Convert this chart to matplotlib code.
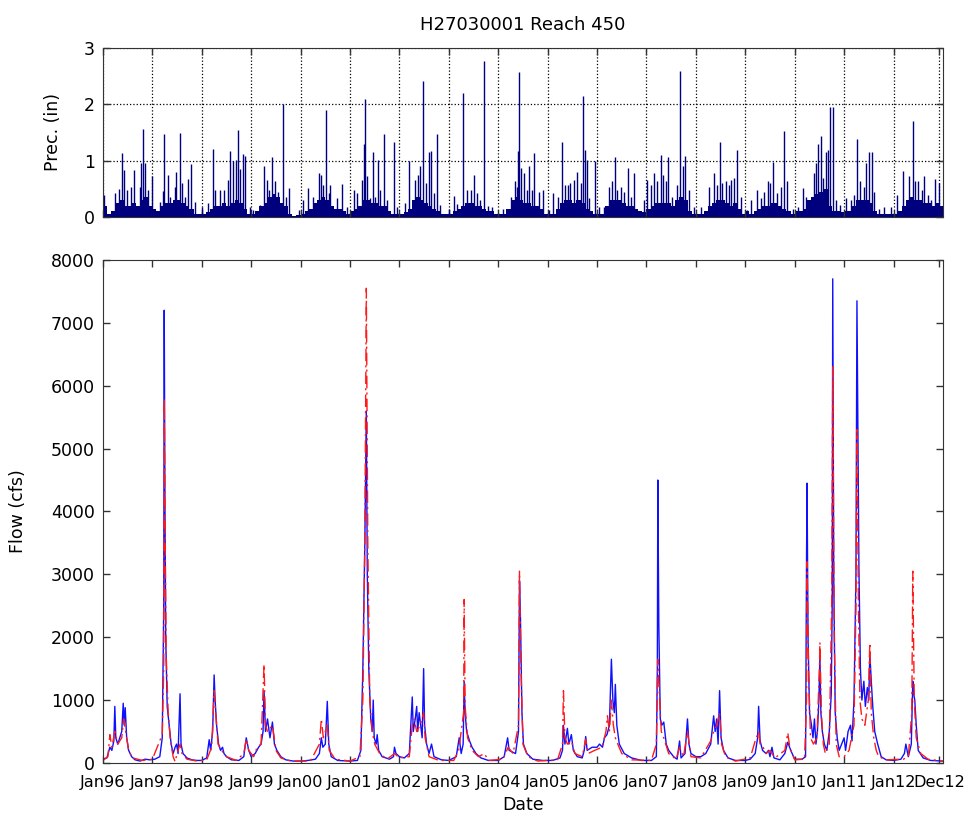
import numpy as np
import matplotlib
matplotlib.use("Agg")
import matplotlib.pyplot as plt

# ---- data (dates as decimal years) ----
tick_pos = [1996, 1997, 1998, 1999, 2000, 2001, 2002, 2003, 2004, 2005,
            2006, 2007, 2008, 2009, 2010, 2011, 2012, 2012.92]
tick_lab = ['Jan96', 'Jan97', 'Jan98', 'Jan99', 'Jan00', 'Jan01', 'Jan02',
            'Jan03', 'Jan04', 'Jan05', 'Jan06', 'Jan07', 'Jan08', 'Jan09',
            'Jan10', 'Jan11', 'Jan12', 'Dec12']

# individual rain days that stand out (year, inches)
rain_day = [1996.02, 1996.24, 1996.33, 1996.39, 1996.43, 1996.48, 1996.57, 1996.63, 1996.74, 1996.78,
            1996.82, 1996.86, 1996.92, 1997.0, 1997.16, 1997.22, 1997.24, 1997.31, 1997.36, 1997.46,
            1997.48, 1997.56, 1997.59, 1997.66, 1997.72, 1997.78, 1997.86, 1998.0, 1998.12, 1998.22,
            1998.27, 1998.36, 1998.45, 1998.53, 1998.57, 1998.63, 1998.70, 1998.74, 1998.78, 1998.84,
            1998.88, 1998.98, 1999.03, 1999.18, 1999.25, 1999.32, 1999.37, 1999.42, 1999.49, 1999.55,
            1999.65, 1999.71, 1999.76, 1999.96, 2000.05, 2000.14, 2000.26, 2000.38, 2000.42, 2000.45,
            2000.52, 2000.57, 2000.60, 2000.73, 2000.84, 2000.94, 2001.09, 2001.15, 2001.24, 2001.28,
            2001.31, 2001.34, 2001.41, 2001.46, 2001.51, 2001.57, 2001.61, 2001.68, 2001.75, 2001.90,
            2001.95, 2002.12, 2002.20, 2002.32, 2002.37, 2002.42, 2002.48, 2002.53, 2002.59, 2002.64,
            2002.69, 2002.76, 2002.83, 2003.0, 2003.10, 2003.17, 2003.29, 2003.37, 2003.44, 2003.51,
            2003.57, 2003.64, 2003.71, 2003.80, 2003.88, 2004.10, 2004.25, 2004.33, 2004.38, 2004.40,
            2004.43, 2004.46, 2004.52, 2004.59, 2004.63, 2004.69, 2004.73, 2004.82, 2004.91, 2005.02,
            2005.11, 2005.20, 2005.29, 2005.36, 2005.41, 2005.46, 2005.53, 2005.60, 2005.67, 2005.72,
            2005.75, 2005.79, 2005.84, 2005.95, 2006.04, 2006.14, 2006.24, 2006.30, 2006.36, 2006.41,
            2006.48, 2006.54, 2006.63, 2006.68, 2006.75, 2006.94, 2007.02, 2007.09, 2007.15, 2007.22,
            2007.29, 2007.34, 2007.39, 2007.44, 2007.52, 2007.61, 2007.67, 2007.73, 2007.79, 2007.86,
            2007.96, 2008.10, 2008.27, 2008.37, 2008.42, 2008.48, 2008.52, 2008.60, 2008.67, 2008.72,
            2008.77, 2008.84, 2008.91, 2009.03, 2009.12, 2009.23, 2009.31, 2009.38, 2009.45, 2009.50,
            2009.57, 2009.65, 2009.72, 2009.79, 2009.85, 2009.96, 2010.06, 2010.16, 2010.23, 2010.33,
            2010.40, 2010.43, 2010.48, 2010.53, 2010.58, 2010.63, 2010.68, 2010.72, 2010.77, 2010.83,
            2010.92, 2011.04, 2011.14, 2011.21, 2011.27, 2011.33, 2011.40, 2011.44, 2011.51, 2011.56,
            2011.61, 2011.71, 2011.81, 2011.95, 2012.08, 2012.20, 2012.32, 2012.39, 2012.43, 2012.50,
            2012.57, 2012.62, 2012.70, 2012.76, 2012.84, 2012.93]
rain_in = [0.39, 0.43, 0.50, 1.13, 0.84, 0.48, 0.54, 0.84, 0.54, 0.96,
           1.57, 0.96, 0.48, 0.72, 0.27, 0.47, 1.48, 0.74, 0.36, 0.54,
           0.80, 1.49, 0.61, 0.36, 0.67, 0.94, 0.27, 0.18, 0.24, 1.20,
           0.48, 0.48, 0.48, 0.66, 1.18, 1.00, 1.02, 1.54, 0.85, 1.12,
           1.08, 0.18, 0.12, 0.21, 0.91, 0.66, 0.48, 1.06, 0.63, 0.45,
           2.01, 0.36, 0.51, 0.12, 0.30, 0.51, 0.36, 0.78, 0.75, 0.57,
           1.90, 0.42, 0.57, 0.33, 0.58, 0.18, 0.48, 0.42, 0.66, 1.30,
           2.10, 0.72, 0.33, 1.15, 0.36, 1.02, 0.48, 1.48, 0.30, 1.33,
           0.18, 0.24, 1.00, 0.66, 0.74, 0.90, 2.42, 0.60, 1.15, 1.17,
           0.42, 1.48, 0.21, 0.15, 0.37, 0.23, 2.20, 0.48, 0.48, 0.74,
           0.43, 0.30, 2.77, 0.20, 0.18, 0.15, 0.36, 0.63, 0.54, 1.18,
           2.58, 0.87, 0.78, 0.48, 0.90, 0.48, 1.13, 0.45, 0.48, 0.12,
           0.42, 0.36, 1.33, 0.57, 0.57, 0.60, 0.66, 0.79, 0.61, 2.15,
           1.19, 1.01, 0.33, 1.00, 0.18, 0.18, 0.54, 0.64, 1.07, 0.48,
           0.54, 0.45, 0.87, 0.36, 0.78, 0.30, 0.66, 0.57, 0.78, 0.63,
           1.10, 0.75, 0.63, 1.07, 0.36, 0.57, 2.60, 0.90, 1.09, 0.48,
           0.18, 0.18, 0.54, 0.78, 0.57, 1.34, 0.60, 0.63, 0.57, 0.66,
           0.70, 1.19, 0.36, 0.12, 0.30, 0.48, 0.33, 0.45, 0.63, 0.60,
           0.97, 0.42, 0.54, 1.52, 0.63, 0.15, 0.18, 0.51, 0.36, 0.25,
           0.78, 0.96, 1.30, 1.44, 0.69, 1.16, 1.19, 1.95, 1.96, 0.30,
           0.21, 0.33, 0.30, 0.39, 1.39, 0.63, 0.54, 0.96, 1.16, 1.16,
           0.45, 0.15, 0.18, 0.18, 0.39, 0.81, 0.72, 1.70, 0.63, 0.63,
           0.48, 0.72, 0.39, 0.30, 0.67, 0.61]

# level of the dense band of small daily totals, month by month (Jan..Dec)
rain_band = {
    1996: [0.20, 0.05, 0.10, 0.25, 0.30, 0.20, 0.20, 0.25, 0.20, 0.30, 0.35, 0.20],
    1997: [0.15, 0.10, 0.20, 0.25, 0.25, 0.30, 0.30, 0.25, 0.20, 0.15, 0.05, 0.05],
    1998: [0.05, 0.08, 0.15, 0.20, 0.20, 0.25, 0.20, 0.25, 0.30, 0.25, 0.15, 0.05],
    1999: [0.05, 0.10, 0.20, 0.25, 0.35, 0.40, 0.35, 0.25, 0.20, 0.05, 0.02, 0.03],
    2000: [0.05, 0.10, 0.15, 0.25, 0.30, 0.35, 0.30, 0.20, 0.15, 0.15, 0.10, 0.05],
    2001: [0.10, 0.15, 0.20, 0.30, 0.30, 0.25, 0.25, 0.20, 0.20, 0.10, 0.05, 0.05],
    2002: [0.05, 0.08, 0.15, 0.30, 0.35, 0.30, 0.25, 0.20, 0.15, 0.10, 0.05, 0.05],
    2003: [0.05, 0.10, 0.15, 0.20, 0.25, 0.25, 0.20, 0.20, 0.15, 0.10, 0.10, 0.05],
    2004: [0.05, 0.05, 0.15, 0.30, 0.35, 0.30, 0.25, 0.25, 0.20, 0.20, 0.15, 0.05],
    2005: [0.05, 0.05, 0.15, 0.25, 0.30, 0.30, 0.25, 0.30, 0.25, 0.15, 0.10, 0.05],
    2006: [0.05, 0.05, 0.20, 0.30, 0.30, 0.30, 0.25, 0.20, 0.20, 0.15, 0.10, 0.08],
    2007: [0.15, 0.20, 0.25, 0.25, 0.25, 0.25, 0.20, 0.30, 0.35, 0.30, 0.10, 0.05],
    2008: [0.05, 0.05, 0.10, 0.20, 0.25, 0.30, 0.30, 0.25, 0.20, 0.25, 0.15, 0.05],
    2009: [0.10, 0.05, 0.10, 0.15, 0.20, 0.20, 0.25, 0.25, 0.20, 0.15, 0.10, 0.05],
    2010: [0.10, 0.10, 0.15, 0.30, 0.35, 0.40, 0.45, 0.50, 0.20, 0.10, 0.10, 0.08],
    2011: [0.10, 0.10, 0.20, 0.30, 0.30, 0.30, 0.25, 0.10, 0.05, 0.05, 0.05, 0.05],
    2012: [0.05, 0.10, 0.20, 0.30, 0.35, 0.30, 0.30, 0.25, 0.25, 0.20, 0.25, 0.20],
}

# observed flow (blue)
obs_t = [1996.00, 1996.08, 1996.14, 1996.18, 1996.22, 1996.24, 1996.26, 1996.30, 1996.34, 1996.38,
         1996.41, 1996.43, 1996.45, 1996.48, 1996.52, 1996.58, 1996.65, 1996.75, 1996.85, 1996.95,
         1997.05, 1997.15, 1997.20, 1997.23, 1997.24, 1997.255, 1997.27, 1997.30, 1997.34, 1997.38,
         1997.42, 1997.46, 1997.49, 1997.52, 1997.56, 1997.58, 1997.62, 1997.70, 1997.80, 1997.90,
         1998.00, 1998.10, 1998.15, 1998.18, 1998.22, 1998.25, 1998.27, 1998.30, 1998.34, 1998.38,
         1998.42, 1998.45, 1998.50, 1998.60, 1998.75, 1998.85, 1998.90, 1998.95, 1999.00, 1999.08,
         1999.15, 1999.20, 1999.24, 1999.26, 1999.29, 1999.33, 1999.38, 1999.43, 1999.47, 1999.52,
         1999.60, 1999.70, 1999.85, 2000.00, 2000.15, 2000.30, 2000.38, 2000.42, 2000.45, 2000.50,
         2000.54, 2000.57, 2000.62, 2000.75, 2001.00, 2001.15, 2001.22, 2001.26, 2001.30, 2001.33,
         2001.35, 2001.38, 2001.42, 2001.45, 2001.47, 2001.49, 2001.53, 2001.55, 2001.58, 2001.65,
         2001.80, 2001.88, 2001.90, 2001.93, 2002.00, 2002.10, 2002.20, 2002.26, 2002.28, 2002.32,
         2002.35, 2002.37, 2002.40, 2002.43, 2002.46, 2002.49, 2002.51, 2002.55, 2002.60, 2002.65,
         2002.70, 2002.85, 2003.00, 2003.15, 2003.21, 2003.25, 2003.29, 2003.31, 2003.33, 2003.36,
         2003.42, 2003.47, 2003.55, 2003.65, 2003.80, 2004.00, 2004.12, 2004.19, 2004.22, 2004.35,
         2004.41, 2004.43, 2004.45, 2004.48, 2004.51, 2004.58, 2004.70, 2004.90, 2005.10, 2005.25,
         2005.30, 2005.32, 2005.35, 2005.40, 2005.43, 2005.48, 2005.52, 2005.60, 2005.70, 2005.74,
         2005.77, 2005.80, 2005.90, 2006.00, 2006.05, 2006.11, 2006.15, 2006.20, 2006.25, 2006.29,
         2006.32, 2006.35, 2006.37, 2006.40, 2006.45, 2006.55, 2006.70, 2006.90, 2007.10, 2007.20,
         2007.22, 2007.23, 2007.25, 2007.28, 2007.31, 2007.35, 2007.40, 2007.45, 2007.55, 2007.62,
         2007.67, 2007.70, 2007.78, 2007.83, 2007.86, 2007.90, 2008.00, 2008.10, 2008.20, 2008.30,
         2008.36, 2008.39, 2008.42, 2008.45, 2008.48, 2008.51, 2008.56, 2008.65, 2008.80, 2009.00,
         2009.10, 2009.20, 2009.25, 2009.27, 2009.30, 2009.35, 2009.42, 2009.47, 2009.50, 2009.54,
         2009.58, 2009.70, 2009.80, 2009.86, 2009.92, 2010.00, 2010.15, 2010.22, 2010.24, 2010.25,
         2010.27, 2010.30, 2010.34, 2010.37, 2010.40, 2010.43, 2010.46, 2010.49, 2010.51, 2010.53,
         2010.56, 2010.60, 2010.65, 2010.70, 2010.74, 2010.76, 2010.77, 2010.79, 2010.82, 2010.86,
         2010.90, 2010.95, 2011.00, 2011.03, 2011.08, 2011.13, 2011.16, 2011.20, 2011.24, 2011.26,
         2011.28, 2011.30, 2011.33, 2011.36, 2011.40, 2011.43, 2011.47, 2011.50, 2011.52, 2011.55,
         2011.58, 2011.62, 2011.68, 2011.75, 2011.85, 2012.00, 2012.15, 2012.22, 2012.25, 2012.30,
         2012.36, 2012.39, 2012.41, 2012.43, 2012.46, 2012.50, 2012.60, 2012.75, 2013.00]
obs_q = [60, 80, 250, 200, 350, 900, 400, 300, 400, 500,
         950, 600, 880, 400, 200, 100, 50, 30, 60, 50,
         60, 100, 400, 2500, 7200, 4100, 2000, 900, 600, 300,
         150, 250, 300, 150, 1100, 300, 150, 80, 50, 40,
         40, 80, 370, 200, 500, 1400, 1000, 600, 300, 200,
         250, 150, 100, 50, 40, 100, 400, 200, 100, 150,
         250, 300, 500, 1150, 500, 700, 400, 650, 300, 200,
         100, 50, 30, 30, 40, 60, 150, 400, 250, 300,
         980, 300, 100, 40, 30, 40, 200, 1500, 3500, 5600,
         3000, 1500, 700, 500, 1000, 400, 300, 450, 200, 100,
         60, 100, 250, 150, 100, 80, 150, 1050, 500, 700,
         900, 500, 800, 600, 400, 1500, 600, 300, 150, 300,
         100, 50, 40, 100, 400, 150, 300, 1300, 800, 500,
         350, 250, 150, 80, 40, 40, 100, 400, 200, 150,
         500, 2900, 2300, 800, 300, 150, 60, 40, 40, 80,
         200, 600, 300, 550, 300, 450, 200, 100, 80, 200,
         420, 200, 250, 250, 300, 250, 400, 450, 600, 1650,
         1000, 800, 1250, 600, 300, 150, 80, 40, 40, 100,
         1500, 4500, 2200, 700, 600, 650, 300, 200, 100, 60,
         350, 80, 150, 700, 300, 150, 100, 100, 150, 300,
         750, 500, 700, 300, 1150, 400, 200, 80, 40, 40,
         60, 150, 400, 900, 350, 200, 150, 200, 100, 250,
         80, 50, 150, 330, 200, 60, 60, 100, 3300, 4450,
         2000, 800, 600, 400, 700, 300, 500, 1000, 1700, 800,
         500, 300, 200, 500, 1100, 2600, 7700, 3000, 800, 400,
         200, 300, 400, 200, 500, 600, 350, 1000, 3000, 7350,
         5200, 3100, 1500, 1000, 1300, 900, 1200, 1000, 1750, 1300,
         900, 500, 300, 100, 50, 40, 60, 150, 300, 100,
         300, 1300, 1100, 1000, 600, 200, 80, 40, 30]

# simulated flow (red dash-dot)
sim_t = [1996.00, 1996.10, 1996.14, 1996.18, 1996.24, 1996.30, 1996.38, 1996.42, 1996.46, 1996.52,
         1996.60, 1996.80, 1997.00, 1997.15, 1997.20, 1997.23, 1997.24, 1997.26, 1997.28, 1997.32,
         1997.36, 1997.42, 1997.46, 1997.50, 1997.56, 1997.60, 1997.70, 1997.90, 1998.10, 1998.20,
         1998.25, 1998.28, 1998.33, 1998.40, 1998.50, 1998.70, 1998.85, 1998.90, 1998.95, 1999.05,
         1999.12, 1999.20, 1999.26, 1999.29, 1999.33, 1999.43, 1999.50, 1999.60, 1999.80, 2000.20,
         2000.38, 2000.42, 2000.46, 2000.54, 2000.58, 2000.70, 2001.00, 2001.20, 2001.26, 2001.30,
         2001.33, 2001.36, 2001.40, 2001.45, 2001.50, 2001.60, 2001.75, 2001.90, 2002.00, 2002.20,
         2002.26, 2002.30, 2002.35, 2002.42, 2002.49, 2002.52, 2002.60, 2002.80, 2003.10, 2003.20,
         2003.30, 2003.31, 2003.33, 2003.38, 2003.47, 2003.60, 2003.72, 2003.80, 2004.10, 2004.20,
         2004.30, 2004.41, 2004.43, 2004.46, 2004.50, 2004.60, 2004.80, 2005.20, 2005.30, 2005.32,
         2005.35, 2005.40, 2005.48, 2005.55, 2005.70, 2005.77, 2005.82, 2005.95, 2006.10, 2006.18,
         2006.21, 2006.25, 2006.29, 2006.33, 2006.37, 2006.42, 2006.50, 2006.70, 2007.10, 2007.20,
         2007.23, 2007.26, 2007.30, 2007.35, 2007.45, 2007.60, 2007.67, 2007.75, 2007.83, 2007.90,
         2008.10, 2008.30, 2008.36, 2008.42, 2008.48, 2008.52, 2008.60, 2008.80, 2009.10, 2009.20,
         2009.27, 2009.30, 2009.36, 2009.42, 2009.50, 2009.60, 2009.80, 2009.86, 2009.90, 2010.00,
         2010.20, 2010.24, 2010.25, 2010.28, 2010.32, 2010.38, 2010.45, 2010.50, 2010.51, 2010.54,
         2010.58, 2010.62, 2010.70, 2010.75, 2010.77, 2010.80, 2010.84, 2010.90, 2011.00, 2011.10,
         2011.20, 2011.24, 2011.26, 2011.29, 2011.32, 2011.36, 2011.42, 2011.49, 2011.52, 2011.55,
         2011.60, 2011.65, 2011.70, 2011.85, 2012.20, 2012.30, 2012.37, 2012.39, 2012.42, 2012.46,
         2012.55, 2012.70, 2013.00]
sim_q = [40, 100, 450, 250, 500, 300, 400, 700, 500, 200,
         80, 40, 60, 350, 450, 1500, 5800, 3500, 1700, 800,
         400, 100, 20, 150, 300, 150, 60, 30, 50, 250,
         1150, 800, 300, 200, 100, 40, 150, 380, 200, 100,
         250, 300, 1570, 600, 500, 600, 200, 80, 30, 30,
         300, 700, 400, 600, 200, 60, 30, 100, 1000, 3500,
         7550, 3500, 1000, 500, 300, 150, 60, 150, 80, 100,
         600, 700, 500, 600, 800, 400, 100, 40, 40, 200,
         800, 2600, 900, 400, 200, 100, 150, 40, 60, 250,
         150, 600, 3050, 1500, 300, 100, 30, 50, 300, 1150,
         400, 300, 350, 150, 100, 380, 150, 200, 250, 500,
         750, 500, 1000, 600, 400, 300, 150, 50, 40, 300,
         1650, 1100, 500, 400, 150, 60, 250, 100, 500, 100,
         80, 350, 500, 600, 800, 300, 100, 30, 80, 350,
         500, 300, 250, 150, 200, 80, 200, 480, 250, 50,
         60, 1000, 3200, 1500, 400, 300, 400, 1500, 1920, 800,
         300, 150, 300, 2600, 6300, 2000, 300, 100, 100, 200,
         600, 2500, 5300, 2500, 1000, 700, 600, 1000, 1910, 800,
         400, 200, 100, 50, 60, 100, 800, 3050, 1000, 400,
         150, 60, 30]

# ---- figure ----
plt.rcParams['font.family'] = 'DejaVu Sans'
plt.rcParams['font.size'] = 12.5
plt.rcParams['axes.edgecolor'] = '#333333'

fig = plt.figure(figsize=(9.75, 8.25), dpi=100)
ax1 = fig.add_axes([0.1056, 0.7370, 0.8615, 0.2048])
ax2 = fig.add_axes([0.1056, 0.0752, 0.8615, 0.6097])

navy = '#00007f'
for yr, band in rain_band.items():
    m = yr + np.arange(12) / 12.0
    ax1.bar(m, band, width=1 / 12.0, align='edge', color=navy, linewidth=0)
ax1.vlines(rain_day, 0, rain_in, color=navy, linewidth=1.0)

ax1.set_xlim(1996, 2013.0)
ax1.set_ylim(0, 3)
ax1.set_yticks([0, 1, 2, 3])
ax1.set_xticks(tick_pos)
ax1.set_xticklabels([])
ax1.grid(True, color='black', linestyle=':', linewidth=0.9)
ax1.set_ylabel('Prec. (in)')
ax1.yaxis.set_label_coords(-0.049, 0.5)
ax1.set_title('H27030001 Reach 450', fontsize=13, pad=13)

ax2.plot(obs_t, obs_q, color='#1010ff', linewidth=1.0)
ax2.plot(sim_t, sim_q, color='#ff1a1a', linewidth=1.0, linestyle='-.',
         dashes=(9, 3, 1.5, 3))
ax2.set_xlim(1996, 2013.0)
ax2.set_ylim(0, 8000)
ax2.set_yticks(np.arange(0, 8001, 1000))
ax2.set_xticks(tick_pos)
ax2.set_xticklabels(tick_lab, fontsize=11.6)
ax2.set_ylabel('Flow (cfs)')
ax2.yaxis.set_label_coords(-0.0905, 0.5)
ax2.set_xlabel('Date')

for ax in (ax1, ax2):
    ax.tick_params(direction='in', top=True, right=True, length=5, width=1,
                   color='#333333', pad=6)
ax2.tick_params(axis='x', pad=9)

fig.savefig('out.png', dpi=100)
